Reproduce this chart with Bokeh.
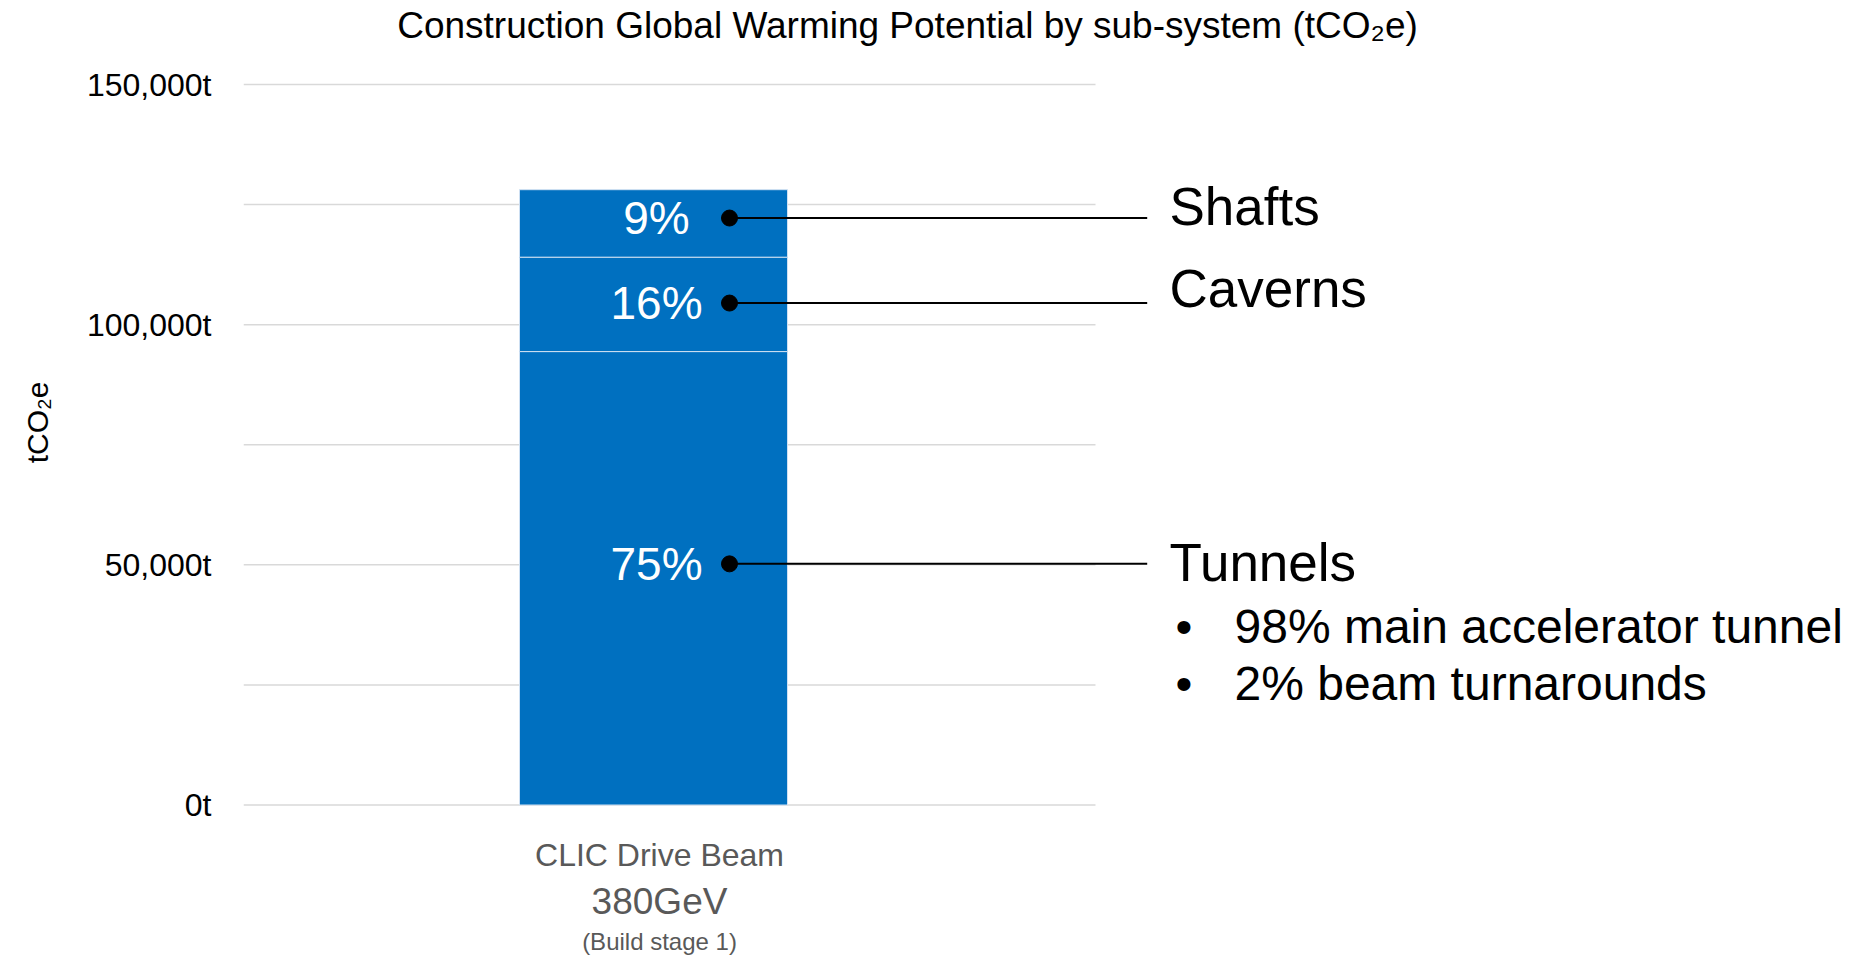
from bokeh.plotting import figure
from bokeh.layouts import column
from bokeh.models import ColumnDataSource, Range1d, FixedTicker, Label
from bokeh.core.properties import value
from bokeh.embed import file_html
from bokeh.resources import INLINE

# ---------------- data ----------------
category_lines = ["CLIC Drive Beam", "380GeV", "(Build stage 1)"]
segments = ["Tunnels", "Caverns", "Shafts"]
gwp_t = [94400, 19650, 14050]              # tCO2e per sub-system (stacked bottom -> top)
share_labels = ["75%", "16%", "9%"]
callout_t = [50200, 104500, 122200]        # y level of each callout marker (tCO2e)
tunnel_breakdown = ["98% main accelerator tunnel", "2% beam turnarounds"]
y_ticks = [0, 50000, 100000, 150000]
y_tick_labels = ["0t", "50,000t", "100,000t", "150,000t"]
grid_ticks = [0, 25000, 50000, 75000, 100000, 125000, 150000]
title_text = "Construction Global Warming Potential by sub-system (tCO\u2082e)"
y_title = "tCO\u2082e"

# ---------------- layout helpers ----------------
W, H = 1852, 956
SPLIT = 836                   # canvas y where the chart area ends and the category area begins
TOP_PAD = 8
FRAME_LEFT = 243
Y0_PX = 804.5                 # canvas y of 0t
PX_PER_T = 720.5 / 150000.0
BAR_CX = 653.0
PX_PER_X = 446.7

def yd(py):
    return (Y0_PX - py) / PX_PER_T

def xd(px):
    return (px - BAR_CX) / PX_PER_X

FONT = "Liberation Sans"
BLUE = "#0070C0"

x_range = Range1d(xd(FRAME_LEFT), xd(W))

# ---------------- main chart ----------------
p = figure(width=W, height=SPLIT, output_backend="svg", toolbar_location=None,
           x_range=x_range, y_range=Range1d(yd(SPLIT), yd(TOP_PAD)),
           x_axis_location=None, y_axis_location="left",
           min_border_left=FRAME_LEFT, min_border_right=0,
           min_border_top=TOP_PAD, min_border_bottom=0, title=None)
p.outline_line_color = None
p.xgrid.visible = False
p.ygrid.visible = False
p.background_fill_color = "white"
p.border_fill_color = "white"

ax = p.yaxis[0]
ax.ticker = FixedTicker(ticks=y_ticks)
ax.major_label_overrides = {t: l for t, l in zip(y_ticks, y_tick_labels)}
ax.axis_line_color = None
ax.major_tick_line_color = None
ax.minor_tick_line_color = None
ax.major_tick_out = 0
ax.major_tick_in = 0
ax.major_label_standoff = 32
ax.major_label_text_font = FONT
ax.major_label_text_font_size = "32px"
ax.major_label_text_color = "#000000"
ax.axis_label = y_title
ax.axis_label_text_font = FONT
ax.axis_label_text_font_size = "30px"
ax.axis_label_text_font_style = "normal"
ax.axis_label_text_color = "#000000"
ax.axis_label_standoff = 30

# gridlines (limited to the chart area)
grid_src = ColumnDataSource(dict(y=grid_ticks,
                                 x0=[xd(FRAME_LEFT)] * len(grid_ticks),
                                 x1=[xd(1095)] * len(grid_ticks)))
p.segment(x0="x0", x1="x1", y0="y", y1="y", source=grid_src,
          line_color="#d9d9d9", line_width=1.5)

# stacked bar
bar_src = ColumnDataSource({"x": [0.0], **{s: [v] for s, v in zip(segments, gwp_t)}})
p.vbar_stack(segments, x="x", width=0.6, source=bar_src,
             fill_color=[BLUE] * 3, line_color="#cfe0f2", line_width=1)

# callouts
n = len(segments)
call_src = ColumnDataSource(dict(
    y=callout_t,
    xd=[xd(729)] * n,
    xe=[xd(1146.7)] * n,
    xl=[xd(BAR_CX + 3)] * n,
    xt=[xd(1169)] * n,
    pct=share_labels,
    name=segments,
    off=[-1.1, -14.4, -11.5],
))
p.segment(x0="xd", x1="xe", y0="y", y1="y", source=call_src,
          line_color="black", line_width=2)
p.scatter(x="xd", y="y", source=call_src, size=16, color="black")
p.text(x="xl", y="y", text="pct", source=call_src, text_color="white",
       text_font=value(FONT), text_font_size="46px",
       text_align="center", text_baseline="middle")
p.text(x="xt", y="y", text="name", source=call_src, y_offset="off",
       text_color="black", text_font=value(FONT), text_font_size="53px",
       text_align="left", text_baseline="middle")

# tunnel breakdown bullets
for txt, mid in zip(tunnel_breakdown, [626, 683]):
    p.add_layout(Label(x=xd(1175), y=yd(mid), text="\u2022", text_font=FONT,
                       text_font_size="48px", text_color="black",
                       text_baseline="middle", text_align="left"))
    p.add_layout(Label(x=xd(1234), y=yd(mid), text=txt, text_font=FONT,
                       text_font_size="48px", text_color="black",
                       text_baseline="middle", text_align="left"))

# title
p.add_layout(Label(x=xd(907), y=yd(25), text=title_text, text_font=FONT,
                   text_font_size="37px", text_color="black",
                   text_baseline="middle", text_align="center"))

# ---------------- category labels strip ----------------
q = figure(width=W, height=H - SPLIT, output_backend="svg", toolbar_location=None,
           x_range=x_range, y_range=Range1d(yd(H), yd(SPLIT)),
           x_axis_location=None, y_axis_location=None,
           min_border_left=FRAME_LEFT, min_border_right=0, min_border_top=0, min_border_bottom=0,
           title=None)
q.outline_line_color = None
q.xgrid.visible = False
q.ygrid.visible = False

for txt, mid, size in zip(category_lines, [854.2, 900.8, 941.0], ["32px", "37px", "24px"]):
    q.add_layout(Label(x=xd(659), y=yd(mid), text=txt, text_font=FONT,
                       text_font_size=size, text_color="#595959",
                       text_baseline="middle", text_align="center"))

layout = column(p, q, spacing=0)
open("out.html", "w").write(file_html(layout, INLINE))
